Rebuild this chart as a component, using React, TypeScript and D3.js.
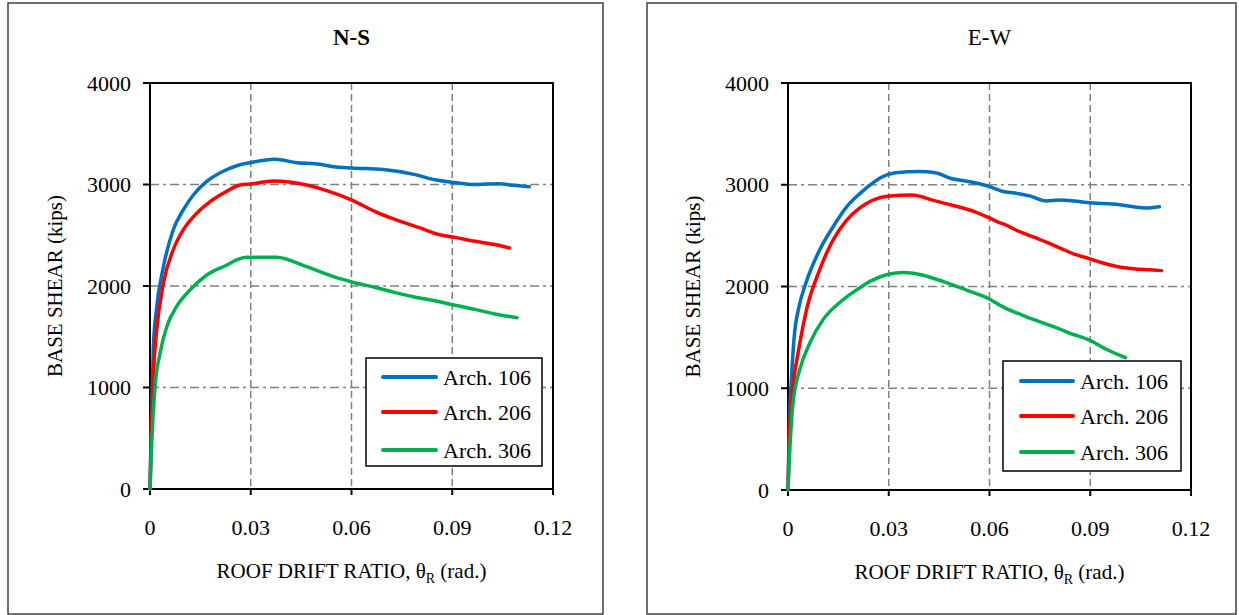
import React from "react";
import * as d3 from "d3";

type Pt = [number, number];

const xTicks = [0, 0.03, 0.06, 0.09, 0.12];
const xTickLabels = ["0", "0.03", "0.06", "0.09", "0.12"];
const yTicks = [0, 1000, 2000, 3000, 4000];
const yTickLabels = ["0", "1000", "2000", "3000", "4000"];
const seriesNames = ["Arch. 106", "Arch. 206", "Arch. 306"];
const seriesColors = ["#0070C0", "#FF0000", "#00B050"];

const ns106: Pt[] = [[0,0],[0.0004,650],[0.001,1400],[0.0019,1764],[0.004,2190],[0.0069,2552],[0.0099,2749],[0.0129,2897],[0.0169,3030],[0.0218,3130],[0.0263,3190],[0.0298,3215],[0.0372,3248],[0.0437,3215],[0.0506,3199],[0.0546,3175],[0.0601,3162],[0.0695,3147],[0.079,3097],[0.0849,3046],[0.0908,3019],[0.0967,3000],[0.1037,3008],[0.1084,2992],[0.1129,2977]];
const ns206: Pt[] = [[0,0],[0.0004,550],[0.0012,1241],[0.0019,1537],[0.004,2027],[0.0069,2355],[0.0099,2552],[0.0139,2716],[0.0179,2831],[0.0218,2913],[0.0268,2995],[0.0298,3005],[0.0367,3034],[0.0466,2995],[0.0526,2939],[0.0601,2846],[0.0672,2730],[0.0731,2653],[0.0802,2575],[0.0861,2506],[0.0908,2479],[0.0967,2440],[0.1026,2409],[0.107,2375]];
const ns306: Pt[] = [[0,0],[0.0005,450],[0.0015,1008],[0.003,1340],[0.005,1599],[0.0079,1796],[0.0119,1960],[0.0169,2108],[0.0218,2190],[0.0288,2283],[0.0377,2283],[0.0466,2190],[0.0546,2092],[0.0601,2040],[0.0672,1985],[0.0731,1935],[0.079,1890],[0.0849,1855],[0.0908,1810],[0.0967,1770],[0.1026,1725],[0.1093,1687]];

const ew106: Pt[] = [[0,0],[0.0004,650],[0.001,1080],[0.002,1560],[0.003,1760],[0.0055,2050],[0.0094,2357],[0.0134,2585],[0.0174,2781],[0.0213,2910],[0.0296,3099],[0.0321,3118],[0.0392,3130],[0.0439,3118],[0.0486,3061],[0.0533,3034],[0.0598,2984],[0.064,2934],[0.0675,2918],[0.0722,2888],[0.0769,2841],[0.0805,2849],[0.0852,2841],[0.0899,2822],[0.097,2811],[0.1029,2784],[0.1064,2772],[0.1106,2784]];
const ew206: Pt[] = [[0,0],[0.0004,550],[0.001,850],[0.002,1150],[0.003,1346],[0.0055,1770],[0.0094,2161],[0.0134,2455],[0.0174,2650],[0.0213,2770],[0.0296,2888],[0.0368,2899],[0.0439,2841],[0.0498,2791],[0.0557,2734],[0.0598,2676],[0.0628,2630],[0.0645,2610],[0.0675,2560],[0.0734,2483],[0.0769,2437],[0.0817,2368],[0.0852,2318],[0.0899,2272],[0.0935,2233],[0.0982,2195],[0.1029,2175],[0.1076,2164],[0.1112,2156]];
const ew306: Pt[] = [[0,0],[0.0005,368],[0.0015,857],[0.0035,1183],[0.0065,1444],[0.0104,1672],[0.0156,1848],[0.0203,1963],[0.025,2060],[0.0296,2118],[0.0345,2137],[0.0392,2118],[0.0463,2048],[0.0533,1963],[0.0598,1880],[0.064,1800],[0.071,1702],[0.0781,1617],[0.084,1540],[0.0899,1471],[0.0946,1386],[0.1005,1301]];

const FONT = "'Liberation Serif', Tinos, 'Nimbus Roman', 'Nimbus Roman No9 L', FreeSerif, 'Noto Serif', 'DejaVu Serif', Georgia, 'Times New Roman', Times, serif";

type PanelProps = {
  box: [number, number, number, number];
  plot: { l: number; r: number; t: number; b: number };
  title: string;
  bold: boolean;
  series: Pt[][];
  legend: { x: number; y: number; w: number; h: number; rows: number[]; lx1: number; lx2: number; tx: number };
};

function Panel({ box, plot, title, bold, series, legend }: PanelProps) {
  const x = d3.scaleLinear().domain([0, 0.12]).range([plot.l, plot.r]);
  const y = d3.scaleLinear().domain([0, 4000]).range([plot.b, plot.t]);
  const line = d3.line<Pt>().x(d => x(d[0])).y(d => y(d[1])).curve(d3.curveMonotoneX);
  const cx = (plot.l + plot.r) / 2;
  const cy = (plot.t + plot.b) / 2;
  const ts = { fontFamily: FONT };
  return (
    <g fill="#000" style={ts}>
      <rect x={box[0]} y={box[1]} width={box[2] - box[0]} height={box[3] - box[1]} fill="#fff" stroke="#404040" strokeWidth={1.5} />
      <text x={cx} y={45} textAnchor="middle" fontSize={23} fontWeight={bold ? "bold" : "normal"} style={ts}>{title}</text>
      {xTicks.slice(1, -1).map(t => (
        <line key={"gx" + t} x1={x(t)} x2={x(t)} y1={plot.t} y2={plot.b} stroke="#808080" strokeWidth={1.5} strokeDasharray="7,4" />
      ))}
      {yTicks.slice(1, -1).map(t => (
        <line key={"gy" + t} x1={plot.l} x2={plot.r} y1={y(t)} y2={y(t)} stroke="#808080" strokeWidth={1.5} strokeDasharray="9,4,3,4" />
      ))}
      <rect x={plot.l} y={plot.t} width={plot.r - plot.l} height={plot.b - plot.t} fill="none" stroke="#000" strokeWidth={2} />
      {yTicks.map((t, i) => (
        <g key={"yt" + t}>
          <line x1={plot.l - 7} x2={plot.l} y1={y(t)} y2={y(t)} stroke="#000" strokeWidth={2} />
          <text x={plot.l - 19} y={y(t)} dy="0.35em" textAnchor="end" fontSize={22} style={ts}>{yTickLabels[i]}</text>
        </g>
      ))}
      {xTicks.map((t, i) => (
        <g key={"xt" + t}>
          <line x1={x(t)} x2={x(t)} y1={plot.b} y2={plot.b + 6} stroke="#000" strokeWidth={2} />
          <text x={x(t)} y={plot.b + 46} textAnchor="middle" fontSize={22} style={ts}>{xTickLabels[i]}</text>
        </g>
      ))}
      <text x={cx} y={plot.b + 89} textAnchor="middle" fontSize={21} style={ts}>
        ROOF DRIFT RATIO, θ<tspan fontSize={14} dy={5}>R</tspan><tspan dy={-5}> (rad.)</tspan>
      </text>
      <text transform={`translate(${plot.l - 88},${cy}) rotate(-90)`} textAnchor="middle" fontSize={21} style={ts}>BASE SHEAR (kips)</text>
      {series.map((s, i) => (
        <path key={"s" + i} d={line(s) || ""} fill="none" stroke={seriesColors[i]} strokeWidth={3.5} strokeLinejoin="round" strokeLinecap="round" />
      ))}
      <rect x={legend.x} y={legend.y} width={legend.w} height={legend.h} fill="#fff" stroke="#000" strokeWidth={1.5} />
      {seriesNames.map((n, i) => (
        <g key={"lg" + i}>
          <line x1={legend.lx1} x2={legend.lx2} y1={legend.rows[i]} y2={legend.rows[i]} stroke={seriesColors[i]} strokeWidth={4} strokeLinecap="round" />
          <text x={legend.tx} y={legend.rows[i]} dy="0.35em" fontSize={22} style={ts}>{n}</text>
        </g>
      ))}
    </g>
  );
}

export default function App() {
  return (
    <svg width={1239} height={615} style={{ position: "absolute", left: 0, top: 0, background: "#fff", fontFamily: FONT }}>
      <rect x={0} y={0} width={1239} height={615} fill="#fff" />
      <Panel
        box={[8, 3, 603, 614]}
        plot={{ l: 150, r: 553, t: 83, b: 489 }}
        title="N-S"
        bold={true}
        series={[ns106, ns206, ns306]}
        legend={{ x: 366, y: 358, w: 176, h: 108, rows: [377, 412, 450], lx1: 383, lx2: 436, tx: 443 }}
      />
      <Panel
        box={[647, 3, 1236, 614]}
        plot={{ l: 788, r: 1191, t: 83, b: 490 }}
        title="E-W"
        bold={false}
        series={[ew106, ew206, ew306]}
        legend={{ x: 1003, y: 361, w: 178, h: 110, rows: [381, 416, 452], lx1: 1021, lx2: 1073, tx: 1080 }}
      />
    </svg>
  );
}
